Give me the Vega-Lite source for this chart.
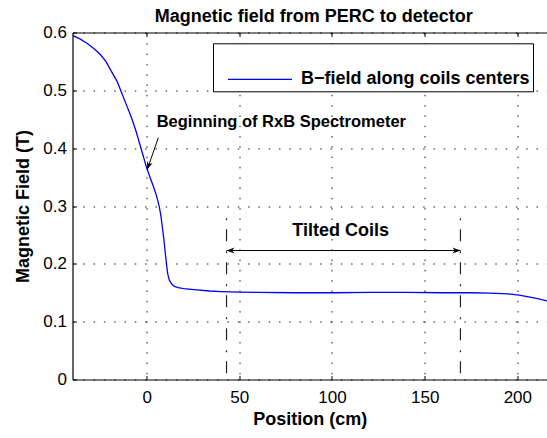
{
  "$schema": "https://vega.github.io/schema/vega-lite/v6.json",
  "width": 474.5,
  "height": 347,
  "autosize": {"type": "none"},
  "padding": {"left": 72.5, "top": 32.5, "right": 0, "bottom": 58.5},
  "background": "white",
  "title": {"text": "Magnetic field from PERC to detector", "fontSize": 18, "font": "Liberation Sans", "fontWeight": "bold", "color": "black", "offset": -2, "frame": "group", "dx": 4},
  "config": {
    "view": {"stroke": null},
    "axis": {
      "labelFont": "Liberation Sans", "labelFontSize": 17, "labelColor": "black",
      "titleFont": "Liberation Sans", "titleFontSize": 18, "titleFontWeight": "bold", "titleColor": "black",
      "domainColor": "black", "domainWidth": 1.2, "tickColor": "black", "tickSize": -4, "tickWidth": 1,
      "gridColor": "black", "gridDash": [1.5, 8.8], "gridOpacity": 0.9, "gridWidth": 1
    },
    "legend": {
      "orient": "none", "legendX": 140.5, "legendY": 10.8,
      "symbolType": "stroke", "symbolSize": 4096, "symbolStrokeWidth": 1.3, "symbolOffset": 11,
      "labelFont": "Liberation Sans", "labelFontSize": 18, "labelFontWeight": "bold", "labelColor": "black", "labelOffset": 8, "labelLimit": 500,
      "strokeColor": "black", "fillColor": "white", "padding": 3
    }
  },
  "datasets": {
    "curve": [
      {"pos": -40, "B": 0.595}, {"pos": -36, "B": 0.589}, {"pos": -32, "B": 0.581}, {"pos": -28, "B": 0.571},
      {"pos": -25, "B": 0.562}, {"pos": -22, "B": 0.550}, {"pos": -19.4, "B": 0.535}, {"pos": -16, "B": 0.516},
      {"pos": -13.5, "B": 0.496}, {"pos": -10.8, "B": 0.474}, {"pos": -8.1, "B": 0.452}, {"pos": -5.8, "B": 0.430},
      {"pos": -3.6, "B": 0.406}, {"pos": -1.8, "B": 0.386}, {"pos": 0, "B": 0.366}, {"pos": 2, "B": 0.348},
      {"pos": 3.6, "B": 0.334}, {"pos": 5.3, "B": 0.318}, {"pos": 6.8, "B": 0.299}, {"pos": 7.7, "B": 0.283},
      {"pos": 8.4, "B": 0.265}, {"pos": 9.2, "B": 0.245}, {"pos": 9.9, "B": 0.224}, {"pos": 10.6, "B": 0.203},
      {"pos": 11.3, "B": 0.184}, {"pos": 12.2, "B": 0.172}, {"pos": 13.5, "B": 0.165}, {"pos": 15, "B": 0.161},
      {"pos": 17, "B": 0.159}, {"pos": 20, "B": 0.157}, {"pos": 27, "B": 0.155}, {"pos": 34, "B": 0.153},
      {"pos": 40, "B": 0.152}, {"pos": 50, "B": 0.151}, {"pos": 60, "B": 0.1505}, {"pos": 80, "B": 0.150},
      {"pos": 100, "B": 0.150}, {"pos": 120, "B": 0.1505}, {"pos": 140, "B": 0.1505}, {"pos": 160, "B": 0.150},
      {"pos": 175, "B": 0.150}, {"pos": 185, "B": 0.1495}, {"pos": 195, "B": 0.148}, {"pos": 201, "B": 0.146},
      {"pos": 206, "B": 0.143}, {"pos": 211, "B": 0.140}, {"pos": 216, "B": 0.136}
    ],
    "coilEdges": [{"pos": 43.1}, {"pos": 169.3}]
  },
  "layer": [
    {
      "data": {"name": "curve"},
      "mark": {"type": "line", "strokeWidth": 1.3, "clip": true},
      "encoding": {
        "x": {"field": "pos", "type": "quantitative", "scale": {"domain": [-40, 216], "nice": false, "zero": false},
              "axis": {"orient": "bottom", "title": "Position (cm)", "values": [0, 50, 100, 150, 200], "labelPadding": 14, "titlePadding": 5, "grid": true}},
        "y": {"field": "B", "type": "quantitative", "scale": {"domain": [0, 0.6], "nice": false, "zero": true},
              "axis": {"orient": "left", "title": "Magnetic Field (T)", "values": [0, 0.1, 0.2, 0.3, 0.4, 0.5, 0.6], "format": "~g", "labelPadding": 10, "titlePadding": 10, "grid": true}},
        "color": {"datum": "B\u2212field along coils centers", "type": "nominal", "scale": {"range": ["#0000ff"]}, "legend": {"title": null}}
      }
    },
    {
      "data": {"name": "coilEdges"},
      "mark": {"type": "rule", "color": "#222222", "strokeWidth": 1.2, "strokeDash": [12, 9, 2, 10]},
      "encoding": {
        "x": {"field": "pos", "type": "quantitative",
              "axis": {"orient": "top", "title": null, "labels": false, "grid": false, "domain": true, "ticks": true, "values": [0, 50, 100, 150, 200]}},
        "y": {"datum": 0.011, "type": "quantitative", "axis": null},
        "y2": {"datum": 0.288}
      }
    },
    {
      "data": {"values": [{"from": 43.1, "to": 169.3, "level": 0.223}]},
      "mark": {"type": "rule", "color": "black", "strokeWidth": 1},
      "encoding": {
        "x": {"field": "from", "type": "quantitative", "axis": null},
        "x2": {"field": "to"},
        "y": {"field": "level", "type": "quantitative", "axis": null}
      }
    },
    {
      "data": {"values": [{"pos": 169.3, "level": 0.223}]},
      "mark": {"type": "point", "shape": "M0,0L-2,-0.75L-1.4,0L-2,0.75Z", "size": 64, "filled": true, "color": "black", "opacity": 1, "angle": 0},
      "encoding": {
        "x": {"field": "pos", "type": "quantitative", "axis": null},
        "y": {"field": "level", "type": "quantitative", "axis": null}
      }
    },
    {
      "data": {"values": [{"pos": 43.1, "level": 0.223}]},
      "mark": {"type": "point", "shape": "M0,0L-2,-0.75L-1.4,0L-2,0.75Z", "size": 64, "filled": true, "color": "black", "opacity": 1, "angle": 180},
      "encoding": {
        "x": {"field": "pos", "type": "quantitative", "axis": null},
        "y": {"field": "level", "type": "quantitative", "axis": null}
      }
    },
    {
      "data": {"values": [{"fromPos": 6.3, "fromB": 0.418, "toPos": 0.3, "toB": 0.363}]},
      "mark": {"type": "rule", "color": "black", "strokeWidth": 1},
      "encoding": {
        "x": {"field": "fromPos", "type": "quantitative", "axis": null},
        "y": {"field": "fromB", "type": "quantitative", "axis": null},
        "x2": {"field": "toPos"},
        "y2": {"field": "toB"}
      }
    },
    {
      "data": {"values": [{"pos": 0.3, "B": 0.363}]},
      "mark": {"type": "point", "shape": "M0,0L-2,-0.75L-1.4,0L-2,0.75Z", "size": 64, "filled": true, "color": "black", "opacity": 1, "angle": 109},
      "encoding": {
        "x": {"field": "pos", "type": "quantitative", "axis": null},
        "y": {"field": "B", "type": "quantitative", "axis": null}
      }
    },
    {
      "data": {"values": [{"label": "Beginning of RxB Spectrometer", "pos": 5.4, "B": 0.445}]},
      "mark": {"type": "text", "align": "left", "baseline": "middle", "font": "Liberation Sans", "fontSize": 16.5, "fontWeight": "bold", "color": "black"},
      "encoding": {
        "x": {"field": "pos", "type": "quantitative", "axis": null},
        "y": {"field": "B", "type": "quantitative", "axis": null},
        "text": {"field": "label"}
      }
    },
    {
      "data": {"values": [{"label": "Tilted Coils", "pos": 104.7, "B": 0.257}]},
      "mark": {"type": "text", "align": "center", "baseline": "middle", "font": "Liberation Sans", "fontSize": 18, "fontWeight": "bold", "color": "black"},
      "encoding": {
        "x": {"field": "pos", "type": "quantitative", "axis": null},
        "y": {"field": "B", "type": "quantitative", "axis": null},
        "text": {"field": "label"}
      }
    }
  ],
  "resolve": {"axis": {"x": "independent", "y": "independent"}}
}
